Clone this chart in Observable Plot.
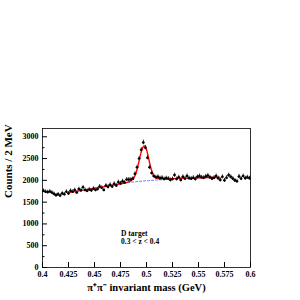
<!DOCTYPE html>
<html><head><meta charset="utf-8">
<script src="https://cdn.jsdelivr.net/npm/d3@7"></script>
<script src="https://cdn.jsdelivr.net/npm/@observablehq/plot@0.6"></script>
<style>
html,body{margin:0;padding:0;background:#fff;}
svg text{fill:#000;}
</style>
</head><body>
<div id="chart"></div>
<script>
const binStart = 0.401, binWidth = 0.002;
const counts = [1760,1740,1730,1745,1720,1690,1660,1680,1650,1700,
1680,1740,1700,1760,1740,1780,1720,1800,1770,1840,
1780,1760,1790,1770,1810,1780,1800,1860,1830,1780,
1880,1850,1900,1860,1920,1880,1960,1930,1980,1950,
2020,2020,2020,2040,2150,2300,2500,2700,2870,2750,
2520,2300,2170,2100,2070,2080,2050,2060,2030,2050,
2040,2010,2030,2120,2030,2070,2010,2080,2040,2100,
2050,2040,2060,2030,2080,2100,2070,2060,2090,2110,
2070,2040,2060,2100,2050,2010,2080,2000,2060,2120,
2080,2040,2000,1980,2090,2040,2100,2050,2070,2050];
const masses = counts.map((_, i) => +(binStart + i * binWidth).toFixed(3));

const fitMass = [0.425,0.45,0.475,0.48,0.484,0.487,0.489,0.491,0.493,0.495,0.497,0.498,0.499,0.501,0.503,0.505,0.507,0.509,0.511,0.515,0.52,0.53,0.55,0.57];
const fitVal  = [1720,1815,1920,1945,1975,2030,2110,2260,2460,2660,2780,2790,2770,2620,2400,2220,2110,2060,2040,2035,2035,2045,2060,2070];
const bgMass = [0.425,0.45,0.475,0.5,0.525,0.55,0.57];
const bgVal  = [1720,1820,1925,1990,2030,2055,2070];

const xTicks = [0.4,0.425,0.45,0.475,0.5,0.525,0.55,0.575,0.6];
const yTicks = [0,500,1000,1500,2000,2500,3000];
const yMinor = [250,750,1250,1750,2250,2750];
const labels = ["D target", "0.3 < z < 0.4"];
const labelY = [770, 600];

const pts = masses.map((m, i) => ({m, c: counts[i], e: Math.sqrt(counts[i])}));
const fit = fitMass.map((m, i) => ({m, c: fitVal[i]}));
const bg = bgMass.map((m, i) => ({m, c: bgVal[i]}));
const txt = labels.map((t, i) => ({t, y: labelY[i]}));

const chart = Plot.plot({
  width: 300, height: 300,
  marginLeft: 42, marginRight: 50, marginTop: 128, marginBottom: 33,
  style: {fontFamily: "Liberation Serif", fontWeight: "bold", fontSize: "8px", color: "#000", background: "#fff"},
  x: {domain: [0.4, 0.6]},
  y: {domain: [0, 3190]},
  marks: [
    Plot.frame({stroke: "#000", strokeWidth: 0.8}),
    Plot.axisX({ticks: xTicks, tickSize: -5, tickPadding: 9, tickFormat: d => String(+d.toFixed(3)), label: null, fontSize: 8, fontWeight: "bold", fill: "#000"}),
    Plot.axisY({ticks: yTicks, tickSize: -5, tickPadding: 9, tickFormat: d => String(d), label: null, fontSize: 8, fontWeight: "bold", fill: "#000"}),
    Plot.axisY({ticks: yMinor, tickSize: -2.5, tickFormat: null, text: null, label: null}),
    Plot.ruleX(pts, {x: "m", y1: d => d.c - d.e, y2: d => d.c + d.e, stroke: "#000", strokeWidth: 0.8}),
    Plot.ruleY(pts, {y: "c", x1: d => d.m - binWidth / 2, x2: d => d.m + binWidth / 2, stroke: "#000", strokeWidth: 0.8}),
    Plot.line(bg, {x: "m", y: "c", stroke: "#6a6aff", strokeWidth: 1, strokeDasharray: "2,2", curve: "natural"}),
    Plot.line(fit, {x: "m", y: "c", stroke: "#ff0000", strokeWidth: 1.4, curve: "natural"}),
    Plot.dot(pts, {x: "m", y: "c", r: 1.3, fill: "#000"}),
    Plot.text(txt, {x: () => 0.4755, y: "y", text: "t", textAnchor: "start", fontSize: 7.5, fontWeight: "bold", fill: "#000"}),
    Plot.text(["Counts / 2 MeV"], {frameAnchor: "left", dx: -34, rotate: -90, fontSize: 11, fontWeight: "bold", fill: "#000", text: d => d}),
    Plot.text(["π⁺π⁻ invariant mass (GeV)"], {frameAnchor: "bottom", dy: 23, dx: 0, fontSize: 10.5, fontWeight: "bold", fill: "#000", text: d => d})
  ]
});
document.getElementById("chart").appendChild(chart);
</script>
</body></html>
